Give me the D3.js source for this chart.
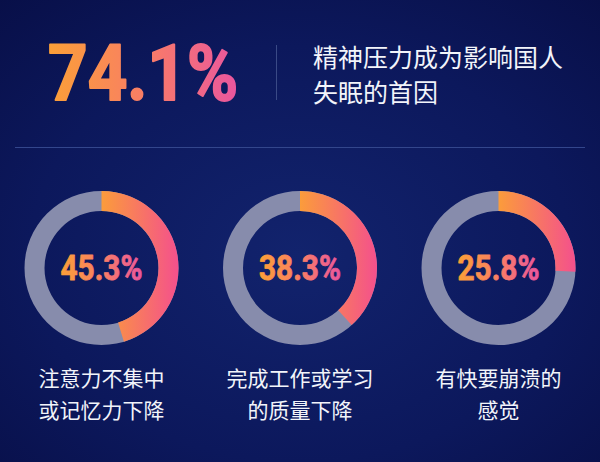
<!DOCTYPE html>
<html><head><meta charset="utf-8">
<script src="https://cdn.jsdelivr.net/npm/d3@7/dist/d3.min.js"></script>
<style>html,body{margin:0;padding:0;background:#0a1456;}svg{display:block}</style>
</head><body>
<svg id="c" width="600" height="462"></svg>
<script>
const headlineValue = 74.1;
const headlineText = ["精神压力成为影响国人", "失眠的首因"];
const categories = [["注意力不集中", "或记忆力下降"], ["完成工作或学习", "的质量下降"], ["有快要崩溃的", "感觉"]];
const values = [45.3, 38.3, 25.8];

const W = 600, H = 462;
const svg = d3.select("#c");
const defs = svg.append("defs");

const bg = defs.append("radialGradient").attr("id", "bg").attr("cx", "50%").attr("cy", "55%").attr("r", "75%");
bg.append("stop").attr("offset", "0%").attr("stop-color", "#12236d");
bg.append("stop").attr("offset", "60%").attr("stop-color", "#0c185c");
bg.append("stop").attr("offset", "100%").attr("stop-color", "#080f48");

const tg = defs.append("linearGradient").attr("id", "tg").attr("x1", "0").attr("x2", "1").attr("y1", "0").attr("y2", "0");
tg.append("stop").attr("offset", "0%").attr("stop-color", "#fba037");
tg.append("stop").attr("offset", "55%").attr("stop-color", "#f87a6a");
tg.append("stop").attr("offset", "100%").attr("stop-color", "#e9569f");

const ag = defs.append("linearGradient").attr("id", "ag").attr("x1", "0").attr("x2", "1").attr("y1", "0").attr("y2", "0");
ag.append("stop").attr("offset", "0%").attr("stop-color", "#fb9c3b");
ag.append("stop").attr("offset", "100%").attr("stop-color", "#f4508d");

svg.append("rect").attr("width", W).attr("height", H).attr("fill", "url(#bg)");

// headline
svg.append("text").attr("x", 48).attr("y", 100)
  .attr("font-family", "Roboto, 'DejaVu Sans', sans-serif").attr("font-weight", 700)
  .attr("font-size", 77).attr("fill", "url(#tg)")
  .attr("stroke", "url(#tg)").attr("stroke-width", 2).attr("stroke-linejoin", "round")
  .attr("textLength", 190).attr("lengthAdjust", "spacingAndGlyphs")
  .text(d3.format(".1f")(headlineValue) + "%");

svg.append("line").attr("x1", 276.5).attr("x2", 276.5).attr("y1", 45).attr("y2", 100)
  .attr("stroke", "#3a4a86").attr("stroke-width", 1);

svg.append("g").selectAll("text").data(headlineText).join("text")
  .attr("x", 313).attr("y", (d, i) => 67 + i * 35)
  .attr("font-family", "'Noto Sans CJK SC', sans-serif").attr("font-size", 25)
  .attr("fill", "#f2f4fa").text(d => d);

svg.append("line").attr("x1", 15).attr("x2", 585).attr("y1", 147.5).attr("y2", 147.5)
  .attr("stroke", "#33468c").attr("stroke-width", 1.2);

// donuts
const x = d3.scalePoint().domain(d3.range(values.length)).range([101.5, 498.5]);
const cy = 268, rOuter = 77, rInner = 57;
const ang = d3.scaleLinear().domain([0, 100]).range([0, 2 * Math.PI]);
const arc = d3.arc().innerRadius(rInner).outerRadius(rOuter);

const g = svg.append("g").selectAll("g").data(values).join("g")
  .attr("transform", (d, i) => `translate(${x(i)},${cy})`);

g.append("path").attr("d", arc({startAngle: 0, endAngle: 2 * Math.PI})).attr("fill", "#878cac");
g.append("path").attr("d", d => arc({startAngle: 0, endAngle: ang(d)})).attr("fill", "url(#ag)");

g.append("text").attr("x", 0).attr("y", 12).attr("text-anchor", "middle")
  .attr("font-family", "Roboto, 'DejaVu Sans', sans-serif").attr("font-weight", 700)
  .attr("font-size", 35).attr("fill", "url(#tg)")
  .attr("stroke", "url(#tg)").attr("stroke-width", 0.8).attr("stroke-linejoin", "round")
  .attr("textLength", 82).attr("lengthAdjust", "spacingAndGlyphs")
  .text(d => d3.format(".1f")(d) + "%");

g.each(function(d, i) {
  d3.select(this).selectAll("text.lab").data(categories[i]).join("text").attr("class", "lab")
    .attr("x", 0).attr("y", (t, j) => 118 + j * 32).attr("text-anchor", "middle")
    .attr("font-family", "'Noto Sans CJK SC', sans-serif").attr("font-size", 21)
    .attr("fill", "#f2f4fa").text(t => t);
});
</script>
</body></html>
